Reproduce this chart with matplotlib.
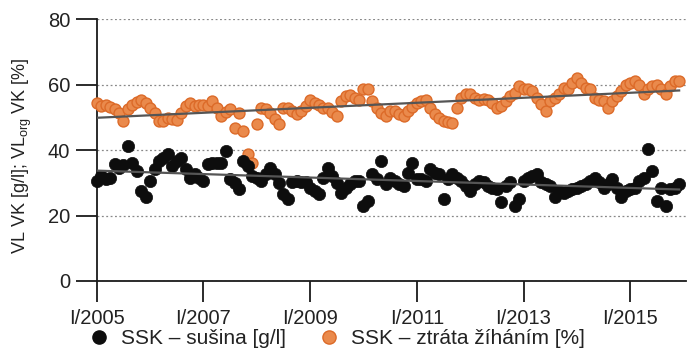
import numpy as np
import matplotlib.pyplot as plt
from matplotlib.lines import Line2D

plt.rcParams['font.family'] = ['Liberation Sans', 'DejaVu Sans']

# monthly values, I/2005 .. XII/2015
susina = [
    30.6, 32.1, 31.1, 31.5, 35.6, 34.6, 35.5, 41.2, 36.1, 33.6, 27.5, 25.5,
    30.6, 34.1, 36.6, 37.7, 38.7, 35.1, 36.5, 37.7, 34.1, 31.6, 32.6, 31.5,
    30.6, 35.6, 36.1, 36.1, 36.1, 39.7, 31.1, 30.0, 28.0, 36.6, 35.0, 32.0,
    31.6, 30.6, 32.6, 34.6, 32.6, 30.0, 26.5, 25.0, 30.1, 30.6, 30.3, 30.1,
    28.5, 27.5, 26.5, 31.6, 34.6, 32.1, 30.0, 27.0, 28.5, 29.5, 30.6, 30.6,
    22.9, 24.5, 32.6, 31.0, 36.6, 29.5, 31.6, 30.6, 29.5, 29.0, 33.1, 36.1,
    31.1, 31.0, 30.6, 34.1, 33.0, 32.6, 25.0, 31.1, 32.6, 31.5, 30.6, 29.0,
    27.5, 29.5, 30.6, 30.1, 29.0, 28.5, 28.0, 24.0, 29.0, 30.1, 22.9, 25.0,
    30.6, 31.5, 32.1, 32.6, 30.1, 29.5, 29.0, 25.5, 27.5, 27.0, 27.5, 28.0,
    28.5, 29.0, 29.5, 30.5, 31.6, 30.1, 28.5, 29.5, 31.1, 28.5, 25.5, 27.5,
    28.0, 28.5, 30.6, 31.6, 40.2, 33.6, 24.5, 28.5, 22.9, 28.0, 28.5, 29.5,
]
zihani = [
    54.4, 53.4, 53.9, 53.2, 52.4, 51.4, 48.8, 52.4, 53.9, 54.6, 55.4, 54.4,
    52.9, 51.4, 48.8, 48.8, 49.8, 49.5, 49.3, 51.4, 53.4, 54.4, 53.4, 53.6,
    53.9, 53.4, 54.9, 52.9, 50.4, 51.5, 52.4, 46.8, 51.4, 45.8, 38.7, 36.1,
    48.0, 52.9, 52.4, 51.4, 49.5, 47.8, 52.9, 52.9, 51.9, 50.9, 52.0, 53.4,
    55.4, 54.4, 53.9, 52.9, 52.9, 51.5, 50.4, 54.9, 56.4, 56.9, 56.0, 55.4,
    58.5, 58.5, 55.0, 52.9, 51.4, 50.4, 52.0, 51.9, 51.0, 50.4, 51.9, 53.0,
    54.4, 55.0, 55.4, 52.9, 51.0, 49.8, 48.8, 48.5, 48.3, 52.9, 55.9, 57.0,
    57.0, 56.0, 55.4, 55.6, 55.4, 54.4, 52.9, 53.4, 54.9, 56.5, 57.5, 59.5,
    58.5, 58.5, 58.0, 55.9, 54.0, 51.9, 54.9, 56.0, 57.0, 59.0, 58.5, 60.5,
    62.0, 60.5, 59.0, 58.5, 56.0, 55.4, 54.9, 52.9, 54.9, 56.5, 58.0, 60.0,
    60.5, 61.0, 60.0, 57.0, 58.5, 59.5, 60.0, 58.5, 57.0, 59.5, 61.0, 61.0,
]
tick_years = [2005, 2007, 2009, 2011, 2013, 2015]
labels = ['SSK – sušina [g/l]', 'SSK – ztráta žíháním [%]']

black = '#0d0d0d'
orange_face = '#ea8a4c'
orange_edge = '#dc6a28'

t = 2005 + np.arange(len(susina)) / 12

fig = plt.figure(figsize=(6.96, 3.53), dpi=100)
ax = fig.add_axes([0.139, 0.204, 0.847, 0.742])

ax.scatter(t, zihani, s=62, c=orange_face, edgecolors=orange_edge,
           linewidths=1.0, zorder=3, clip_on=False)
ax.scatter(t, susina, s=78, c=black, edgecolors=black, linewidths=0.5,
           zorder=3, clip_on=False)

# linear trends
for vals in (zihani, susina):
    k, q = np.polyfit(t, vals, 1)
    tt = np.array([t[0], t[-1]])
    ax.plot(tt, k * tt + q, color='#555555', lw=1.6, zorder=4)

ax.set_xlim(2005, 2016.05)
ax.set_ylim(0, 80)
ax.set_yticks([0, 20, 40, 60, 80])
ax.set_xticks(tick_years)
ax.set_xticklabels([f'I/{y}' for y in tick_years])
ax.grid(axis='y', linestyle=(0, (1.5, 2)), color='#888888', lw=0.9)
ax.set_axisbelow(True)

for s in ('top', 'right'):
    ax.spines[s].set_visible(False)
for s in ('left', 'bottom'):
    ax.spines[s].set_linewidth(1.3)
    ax.spines[s].set_color('#1a1a1a')

ax.tick_params(axis='both', length=15, width=1.3, color='#1a1a1a',
               labelsize=14.5, labelcolor='#222222')
ax.tick_params(axis='y', pad=4)
ax.tick_params(axis='x', pad=5)

fig.text(0.032, 0.56, 'VL VK [g/l]; VL$_{\\mathregular{org}}$ VK [%]',
         rotation=90, ha='center', va='center', fontsize=13, color='#222222')

handles = [
    Line2D([], [], ls='none', marker='o', ms=9.5, mfc=black, mec=black),
    Line2D([], [], ls='none', marker='o', ms=9.5, mfc=orange_face,
           mec=orange_edge, mew=1.0),
]
fig.legend(handles, labels, loc='center', bbox_to_anchor=(0.483, 0.04),
           ncol=2, frameon=False, fontsize=15, handletextpad=0.5,
           columnspacing=1.5, handlelength=1.1, labelcolor='#222222')

fig.savefig('out.png', dpi=100)
